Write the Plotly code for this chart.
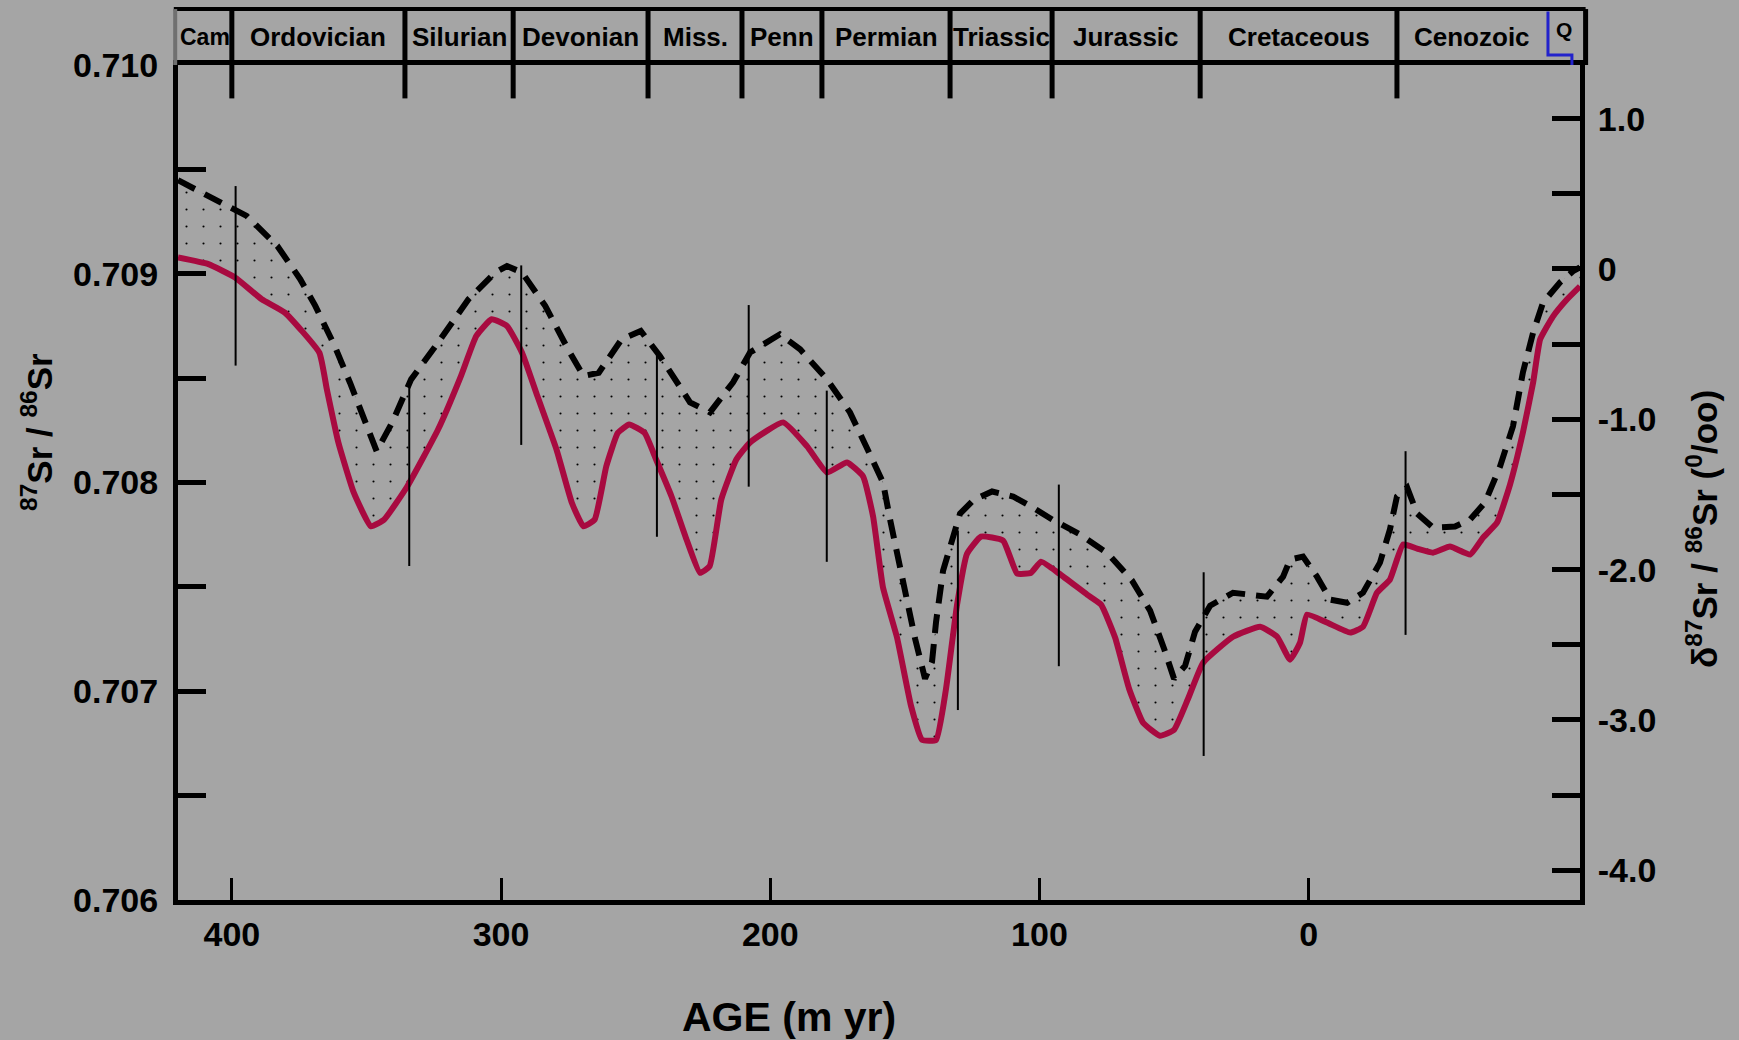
import plotly.graph_objects as go

# ---------------- data ----------------
# solid (red) curve: age (m yr) and 87Sr/86Sr
red_age = [420.0, 408.7, 398.8, 388.9, 380.3, 367.5, 364.7, 360.4, 354.7, 348.3,
           343.4, 334.8, 323.4, 314.9, 309.2, 303.5, 297.8, 292.2, 286.5, 279.4,
           273.7, 269.4, 265.2, 260.9, 256.6, 252.4, 246.7, 242.4, 236.7, 231.1,
           226.1, 222.5, 218.2, 212.6, 207.5, 195.2, 186.3, 178.9, 171.5, 165.5,
           161.8, 158.1, 152.9, 147.7, 143.6, 138.4, 134.7, 130.6, 126.9, 121.7,
           113.5, 108.3, 103.1, 99.4, 92.7, 82.3, 77.1, 71.9, 66.7, 61.5,
           55.2, 50.0, 44.8, 39.2, 28.1, 18.0, 11.7, 6.9, 3.2, 0.6,
           -6.8, -15.4, -20.2, -25.4, -30.2, -35.1, -40.3, -46.2, -52.5, -60.0,
           -64.8, -70.0, -74.8, -79.6, -83.4, -86.0, -90.8, -96.0, -100.8]
red_sr = [0.709078, 0.709046, 0.708982, 0.708878, 0.708814, 0.708622, 0.708446, 0.708190, 0.707951, 0.707790,
          0.707823, 0.707982, 0.708254, 0.708510, 0.708702, 0.708782, 0.708750, 0.708622, 0.708414, 0.708158,
          0.707903, 0.707790, 0.707823, 0.708078, 0.708238, 0.708278, 0.708238, 0.708110, 0.707934, 0.707727,
          0.707567, 0.707599, 0.707918, 0.708110, 0.708192, 0.708288, 0.708173, 0.708048, 0.708096, 0.708029,
          0.707837, 0.707496, 0.707257, 0.706930, 0.706767, 0.706767, 0.707012, 0.707415, 0.707659, 0.707741,
          0.707722, 0.707564, 0.707568, 0.707621, 0.707564, 0.707463, 0.707415, 0.707257, 0.707012, 0.706849,
          0.706787, 0.706815, 0.706964, 0.707137, 0.707261, 0.707309, 0.707261, 0.707151, 0.707233, 0.707367,
          0.707329, 0.707281, 0.707309, 0.707472, 0.707535, 0.707703, 0.707683, 0.707664, 0.707693, 0.707655,
          0.707736, 0.707808, 0.707990, 0.708240, 0.708480, 0.708686, 0.708796, 0.708878, 0.708940]

# dashed (upper) curve
dash_age = [420.0, 401.6, 394.5, 383.1, 374.6, 369.0, 361.8, 356.1, 350.4, 346.2,
            340.5, 333.4, 323.4, 312.1, 302.1, 297.8, 292.2, 283.6, 275.1, 269.4,
            263.7, 255.2, 248.1, 241.0, 229.8, 222.4, 213.8, 207.5, 196.4, 188.9,
            178.9, 170.4, 163.3, 158.1, 155.5, 152.9, 150.3, 146.2, 142.5, 139.9,
            138.4, 135.8, 129.5, 124.3, 117.6, 109.8, 103.1, 95.3, 84.9, 74.5,
            65.6, 58.9, 53.7, 50.0, 45.9, 42.2, 36.6, 28.1, 15.5, 9.5,
            6.9, 2.1, -3.1, -8.0, -14.3, -20.2, -26.5, -30.2, -32.8, -36.6,
            -40.3, -46.2, -54.4, -60.0, -65.5, -71.1, -75.9, -79.6, -83.4, -87.1,
            -93.4, -98.2, -100.8]
dash_sr = [0.709448, 0.709325, 0.709277, 0.709133, 0.708974, 0.708846, 0.708654, 0.708478, 0.708286, 0.708150,
           0.708286, 0.708494, 0.708670, 0.708878, 0.709006, 0.709037, 0.709006, 0.708846, 0.708638, 0.708510,
           0.708526, 0.708686, 0.708726, 0.708606, 0.708384, 0.708336, 0.708480, 0.708623, 0.708710, 0.708638,
           0.708494, 0.708336, 0.708144, 0.708000, 0.707823, 0.707659, 0.707496, 0.707252, 0.707060, 0.707141,
           0.707333, 0.707578, 0.707851, 0.707918, 0.707957, 0.707933, 0.707885, 0.707823, 0.707751, 0.707659,
           0.707530, 0.707386, 0.707204, 0.707060, 0.707122, 0.707285, 0.707410, 0.707472, 0.707453, 0.707549,
           0.707631, 0.707645, 0.707549, 0.707439, 0.707424, 0.707472, 0.707616, 0.707775, 0.707933, 0.707976,
           0.707851, 0.707784, 0.707789, 0.707823, 0.707904, 0.708077, 0.708269, 0.708528, 0.708719, 0.708863,
           0.708959, 0.709012, 0.709031]

# vertical uncertainty bars
err_age = [398.6, 334.1, 292.5, 242.1, 208.0, 179.0, 130.3, 92.8, 39.0, -36.0]
err_top = [0.70942, 0.70846, 0.70904, 0.70861, 0.70885, 0.70844, 0.70777, 0.70799, 0.70757, 0.70815]
err_bot = [0.70856, 0.70760, 0.70818, 0.70774, 0.70798, 0.70762, 0.70691, 0.70712, 0.70669, 0.70727]

# geologic periods (boundaries in the chart's age units)
period_names = ["Cam", "Ordovician", "Silurian", "Devonian", "Miss.", "Penn", "Permian",
                "Triassic", "Jurassic", "Cretaceous", "Cenozoic", "Q"]
period_bounds = [420.0, 400.0, 335.7, 295.5, 245.4, 210.5, 180.8, 133.2, 95.3, 40.3, -32.8, -88.9, -100.8]

# axes
x_ticks = [400, 300, 200, 100, 0]
x_labels = ["400", "300", "200", "100", "0"]
y_ticks = [0.706, 0.7065, 0.707, 0.7075, 0.708, 0.7085, 0.709, 0.7095, 0.710]
y_labels = ["0.706", "", "0.707", "", "0.708", "", "0.709", "", "0.710"]
d_range = [-4.198, 1.357]
d_ticks = [-4.0, -3.5, -3.0, -2.5, -2.0, -1.5, -1.0, -0.5, 0.0, 0.5, 1.0]
d_labels = ["-4.0", "", "-3.0", "", "-2.0", "", "-1.0", "", "0", "", "1.0"]

# ---------------- styling ----------------
FONT = "Liberation Sans, Arial, sans-serif"
BG = "#a5a5a5"
RED = "#a80a40"
X_RANGE = [420.0, -100.8]

fig = go.Figure()

fig.add_trace(go.Scatter(
    x=red_age, y=red_sr, mode="lines",
    line=dict(color=RED, width=6, shape="spline", smoothing=0.4),
    showlegend=False, hoverinfo="skip"))

fig.add_trace(go.Scatter(
    x=dash_age, y=dash_sr, mode="lines",
    line=dict(color="black", width=6, dash="19px,11px"),
    fill="tonexty", fillcolor="rgba(0,0,0,0)",
    fillpattern=dict(shape=".", fgcolor="black", bgcolor="rgba(0,0,0,0)",
                     size=17, solidity=0.012, fillmode="replace"),
    showlegend=False, hoverinfo="skip"))

ex, ey = [], []
for a, lo, hi in zip(err_age, err_bot, err_top):
    ex += [a, a, None]
    ey += [lo, hi, None]
fig.add_trace(go.Scatter(x=ex, y=ey, mode="lines",
                         line=dict(color="black", width=2),
                         showlegend=False, hoverinfo="skip"))

# empty trace so the right-hand delta axis is drawn
fig.add_trace(go.Scatter(x=[None], y=[None], yaxis="y2", mode="lines",
                         showlegend=False, hoverinfo="skip"))

tickfont = dict(family=FONT, size=34, color="black", weight="bold")

fig.update_layout(
    width=1739, height=1040, autosize=False,
    margin=dict(l=178, r=159, t=65, b=140),
    paper_bgcolor=BG, plot_bgcolor=BG,
    xaxis=dict(range=X_RANGE, tickvals=x_ticks, ticktext=x_labels,
               ticks="inside", ticklen=22, tickwidth=3, tickcolor="black",
               showline=True, linecolor="black", linewidth=5, mirror=True,
               showgrid=False, zeroline=False, tickfont=tickfont,
               ticklabelstandoff=0),
    yaxis=dict(range=[0.706, 0.710], tickvals=y_ticks, ticktext=y_labels,
               ticks="inside", ticklen=28, tickwidth=5, tickcolor="black",
               showline=True, linecolor="black", linewidth=5,
               showgrid=False, zeroline=False, tickfont=tickfont,
               ticklabelstandoff=8),
    yaxis2=dict(range=d_range, overlaying="y", side="right",
                tickvals=d_ticks, ticktext=d_labels,
                ticks="inside", ticklen=28, tickwidth=5, tickcolor="black",
                showline=True, linecolor="black", linewidth=5,
                showgrid=False, zeroline=False, tickfont=tickfont,
                ticklabelstandoff=6),
)

# ---- period box on top ----
BOX_TOP = 1.067
TICK_BOTTOM = 0.960
shapes = []
shapes.append(dict(type="line", xref="paper", yref="paper", x0=-0.003, x1=1.004,
                   y0=BOX_TOP, y1=BOX_TOP, line=dict(color="black", width=4)))
shapes.append(dict(type="line", xref="paper", yref="paper", x0=1.004, x1=1.004,
                   y0=1.0, y1=BOX_TOP, line=dict(color="black", width=5)))
shapes.append(dict(type="line", xref="paper", yref="paper", x0=-0.002, x1=-0.002,
                   y0=1.0, y1=BOX_TOP, line=dict(color="#707070", width=4)))
for b in period_bounds[1:-2]:
    shapes.append(dict(type="line", xref="x", yref="paper", x0=b, x1=b,
                       y0=TICK_BOTTOM, y1=BOX_TOP, line=dict(color="black", width=5)))
# Quaternary bracket (blue)
q0 = period_bounds[-2]
q1 = -97.8
shapes.append(dict(type="path", xref="x", yref="paper",
                   path=f"M {q0},{BOX_TOP - 0.003} L {q0},1.012 L {q1},1.012 L {q1},1.0",
                   line=dict(color="#2222cc", width=3)))
fig.update_layout(shapes=shapes)

ann = []
for i, name in enumerate(period_names):
    cx = (period_bounds[i] + period_bounds[i + 1]) / 2
    if name == "Q":
        size = 21
    elif name == "Cam":
        size = 23
    else:
        size = 26
    ann.append(dict(x=cx, y=1.042 if name == "Q" else 1.034, xref="x", yref="paper",
                    text=name, showarrow=False, xanchor="center", yanchor="middle",
                    font=dict(family=FONT, size=size, color="black", weight="bold")))

ann.append(dict(x=0.4358, y=-0.140, xref="paper", yref="paper",
                text="AGE (m yr)", showarrow=False, xanchor="center", yanchor="middle",
                font=dict(family=FONT, size=41, color="black", weight="bold")))
ann.append(dict(x=-0.1006, y=0.5605, xref="paper", yref="paper", textangle=-90,
                text="<sup>87</sup>Sr / <sup>86</sup>Sr", showarrow=False,
                xanchor="center", yanchor="middle",
                font=dict(family=FONT, size=35, color="black", weight="bold")))
ann.append(dict(x=1.087, y=0.4443, xref="paper", yref="paper", textangle=-90,
                text="δ<sup>87</sup>Sr / <sup>86</sup>Sr (<sup>0</sup>/oo)", showarrow=False,
                xanchor="center", yanchor="middle",
                font=dict(family=FONT, size=35, color="black", weight="bold")))
fig.update_layout(annotations=ann)

fig.write_html(
    "out.html",
    config={"displayModeBar": False},
    post_script="document.body.style.margin='0';document.body.style.backgroundColor='" + BG + "';",
)
